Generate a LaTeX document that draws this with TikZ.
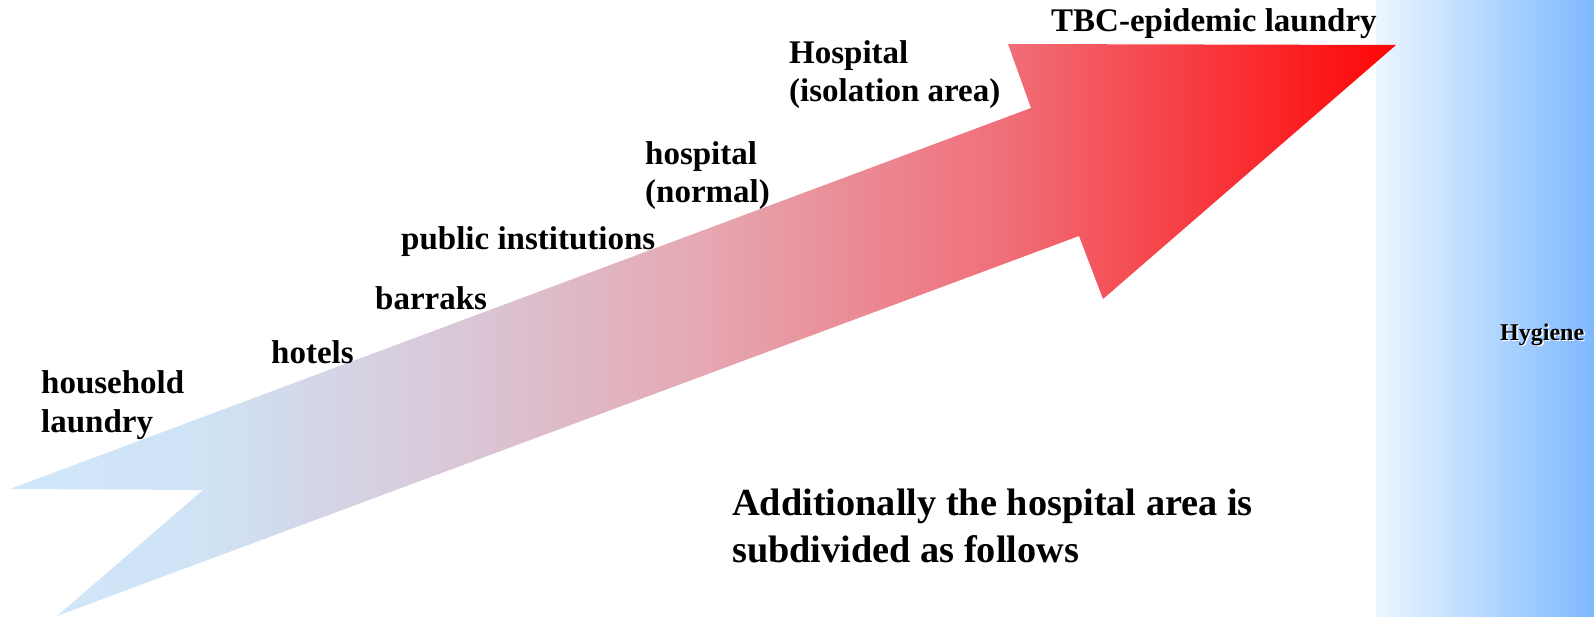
\documentclass[tikz,border=0pt]{standalone}
\usepackage{fontspec}
\setmainfont{Liberation Serif}
\definecolor{hygleft}{RGB}{236,246,255}
\definecolor{hygright}{RGB}{126,185,255}
\definecolor{sA}{RGB}{208,232,250}
\definecolor{sB}{RGB}{207,227,245}
\definecolor{sC}{RGB}{219,195,210}
\definecolor{sD}{RGB}{229,168,178}
\definecolor{sE}{RGB}{240,110,120}
\definecolor{sF}{RGB}{255,5,5}
\pgfdeclarehorizontalshading{arrowshade}{100bp}{color(0bp)=(sA); color(25bp)=(sA); color(32bp)=(sB); color(42.5bp)=(sC); color(50bp)=(sD); color(61bp)=(sE); color(75bp)=(sF); color(100bp)=(sF)}
\pgfdeclarehorizontalshading{hygshade}{100bp}{color(0bp)=(hygleft); color(25bp)=(hygleft); color(75bp)=(hygright); color(100bp)=(hygright)}
\tikzset{
  lbl/.style={anchor=base west, inner sep=0pt, align=left, font=\bfseries\fontsize{33}{38.5}\selectfont},
  bigtxt/.style={anchor=base west, inner sep=0pt, align=left, font=\bfseries\fontsize{38.3}{47}\selectfont},
  hyg/.style={anchor=base west, inner sep=0pt, font=\bfseries\fontsize{24}{28}\selectfont},
}
\begin{document}
\begin{tikzpicture}[x=1pt,y=-1pt]
\useasboundingbox (0,0) rectangle (1594,617);
% hygiene band
\shade[shading=hygshade, shading angle=0] (1376,0) rectangle (1594,617);
% big arrow
\shade[shading=arrowshade, shading angle=0]
  (10,489) -- (203,490) -- (57,616) -- (1079,236) -- (1103,299)
  -- (1396,45) -- (1008,44) -- (1031,108) -- cycle;
% labels (two-line nodes anchored at the baseline of their last line)
\node[lbl] (household) at (41,432) {household\\laundry};
\node[lbl] (hotels) at (271,363) {hotels};
\node[lbl] (barraks) at (375,309) {barraks};
\node[lbl] (public) at (401,250) {public institutions};
\node[lbl] (hospnormal) at (645,203) {hospital\\(normal)};
\node[lbl] (hospiso) at (789,102) {Hospital\\(isolation area)};
\node[lbl] (tbc) at (1051,32) {TBC-epidemic laundry};
\node[bigtxt] (additional) at (732,562) {Additionally the hospital area is\\subdivided as follows};
\node[hyg, text=white] (hygshadow) at (1501.5,341.5) {Hygiene};
\node[hyg] (hygiene) at (1500,340) {Hygiene};
\end{tikzpicture}
\end{document}
